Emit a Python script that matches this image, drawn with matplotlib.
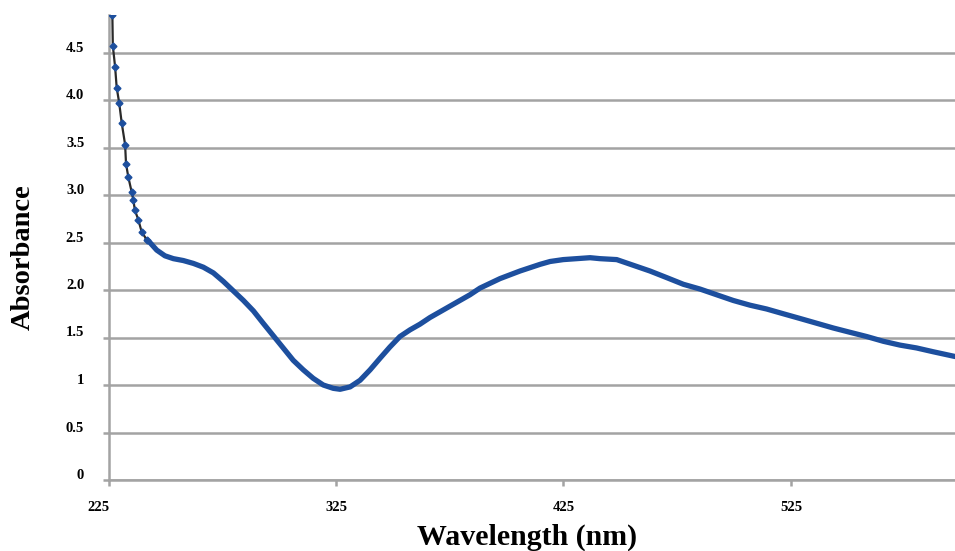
import matplotlib
matplotlib.use('Agg')
import matplotlib.pyplot as plt
from matplotlib.transforms import ScaledTranslation

# values
wavelength = [226.7, 226.9, 227.9, 228.6, 229.7, 230.8, 232.3, 232.7, 233.7, 235.2,
              235.9, 236.6, 238.1, 239.6, 241.8, 243.2, 246.2, 249.8, 253.5, 257.9,
              262.3, 266.7, 271.1, 275.5, 279.9, 284.3, 288.7, 293.0, 297.4, 301.8,
              306.2, 310.6, 315.0, 319.4, 323.8, 326.8, 331.2, 335.6, 340.0, 344.3,
              348.7, 353.1, 357.5, 361.9, 366.3, 370.7, 375.1, 379.5, 383.9, 388.3,
              392.7, 397.1, 401.5, 405.9, 410.3, 414.7, 419.1, 424.9, 430.8, 436.7,
              441.0, 448.4, 455.7, 463.0, 470.4, 477.7, 485.0, 492.3, 499.6, 507.0,
              514.3, 521.6, 529.0, 536.3, 543.6, 550.9, 558.3, 565.6, 572.9, 580.2,
              587.5, 597.1]
absorbance = [4.89, 4.57, 4.35, 4.13, 3.97, 3.76, 3.53, 3.33, 3.19, 3.03,
              2.95, 2.84, 2.74, 2.61, 2.53, 2.50, 2.42, 2.36, 2.33, 2.31,
              2.28, 2.24, 2.18, 2.09, 1.99, 1.89, 1.78, 1.65, 1.52, 1.39,
              1.26, 1.16, 1.07, 1.00, 0.965, 0.955, 0.98, 1.05, 1.16, 1.28,
              1.40, 1.51, 1.58, 1.64, 1.71, 1.77, 1.83, 1.89, 1.95, 2.02,
              2.07, 2.12, 2.16, 2.20, 2.235, 2.27, 2.30, 2.32, 2.33, 2.34,
              2.33, 2.32, 2.26, 2.20, 2.13, 2.06, 2.01, 1.95, 1.89, 1.84,
              1.80, 1.75, 1.70, 1.65, 1.60, 1.555, 1.51, 1.46, 1.42, 1.39,
              1.35, 1.30]

x_ticks = [225, 325, 425, 525]
y_ticks = [0, 0.5, 1, 1.5, 2.0, 2.5, 3.0, 3.5, 4.0, 4.5]
y_tick_labels = ['0', '0.5', '1', '1.5', '2.0', '2.5', '3.0', '3.5', '4.0', '4.5']

n_steep = 15  # points where the line is steep enough to show single markers

blue = '#1d4f9e'
grey = '#a3a3a3'
font = 'Liberation Serif'

fig = plt.figure(figsize=(9.55, 5.51), dpi=100)
ax = fig.add_axes([108.5 / 955, 71 / 551, 846.5 / 955, 465.5 / 551])

ax.set_xlim(225, 597.1)
ax.set_ylim(0, 4.9)

# gridlines
ax.set_yticks(y_ticks)
ax.set_yticklabels(y_tick_labels)
ax.set_xticks(x_ticks)
ax.grid(axis='y', color=grey, lw=1.8, zorder=0)
ax.set_axisbelow(True)

# the curve
ax.plot(wavelength[n_steep - 1:], absorbance[n_steep - 1:], color=blue, lw=3.8,
        solid_capstyle='round', solid_joinstyle='round', zorder=3)
ax.plot(wavelength[:n_steep], absorbance[:n_steep], color='#2a2a2a', lw=1.6, zorder=3)
ax.plot(wavelength[:n_steep], absorbance[:n_steep], ls='none', marker='D', ms=3.5,
        color=blue, zorder=4)

for side in ['top', 'right']:
    ax.spines[side].set_visible(False)
for side in ['left', 'bottom']:
    ax.spines[side].set_color(grey)
    ax.spines[side].set_linewidth(1.8)

ax.tick_params(axis='y', length=4.5, width=1.8, color=grey, pad=13)
ax.tick_params(axis='x', length=4, width=1.8, color=grey, pad=11)

for lab in ax.get_yticklabels():
    lab.set_fontfamily(font)
    lab.set_fontweight('bold')
    lab.set_fontsize(10.5)
    lab.set_transform(lab.get_transform() + ScaledTranslation(0, 0.06, fig.dpi_scale_trans))
for lab in ax.get_xticklabels():
    lab.set_fontfamily(font)
    lab.set_fontweight('bold')
    lab.set_fontsize(10.5)
xl = ax.get_xticklabels()[0]
xl.set_transform(xl.get_transform() + ScaledTranslation(-0.1, 0, fig.dpi_scale_trans))

ax.set_xlabel('Wavelength (nm)', fontfamily=font, fontweight='bold', fontsize=21.5)
ax.xaxis.set_label_coords(0.5 - 5 / 846.5, -57 / 465.5, transform=ax.transAxes)
ax.set_ylabel('Absorbance', fontfamily=font, fontweight='bold', fontsize=20.5)
ax.yaxis.set_label_coords(-85 / 846.5, (480 - 257) / 465.5, transform=ax.transAxes)
ax.xaxis.label.set_va('center')
ax.yaxis.label.set_va('center')

plt.savefig('out.png', dpi=100)
